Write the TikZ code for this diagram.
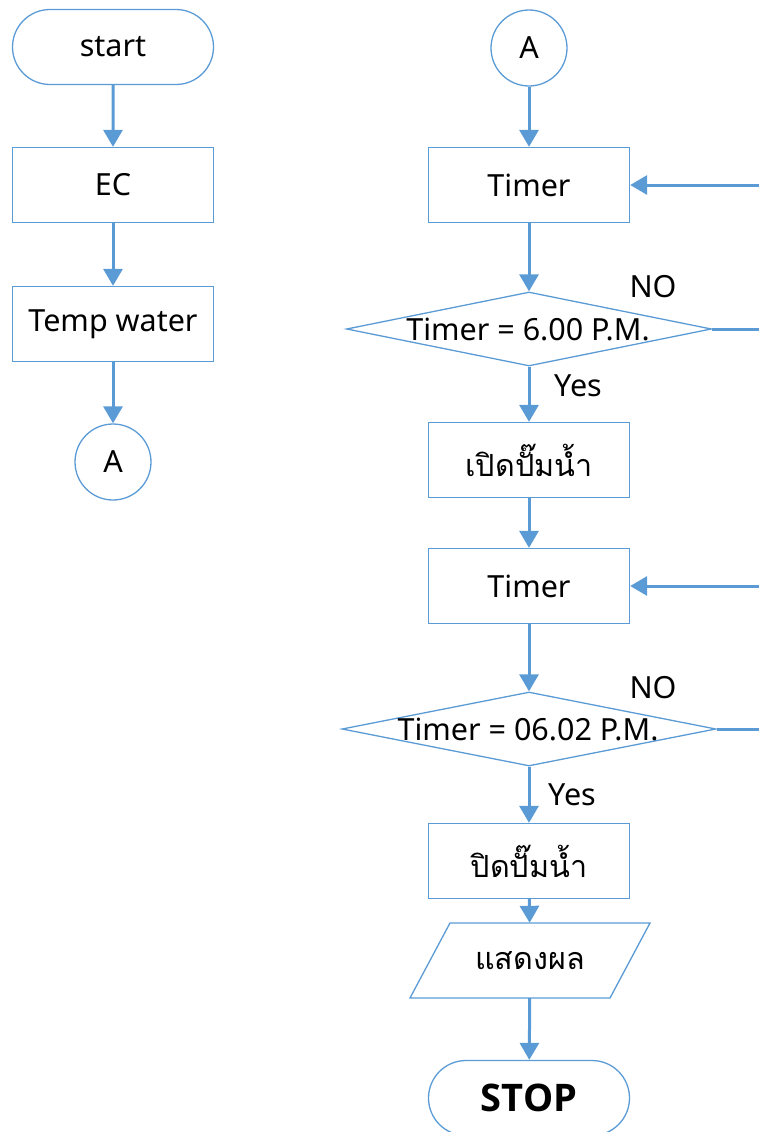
\documentclass[tikz,border=0pt]{standalone}
\usepackage{fontspec}
\setmainfont{Noto Sans}
\newfontfamily\thaifont[Script=Thai]{Loma}
\newfontfamily\stopfont{Open Sans}
\usetikzlibrary{arrows.meta,shapes.geometric,shapes.misc}
\definecolor{lineblue}{HTML}{5B9BD5}
\tikzset{
  txt/.style={font=\fontsize{30.5}{32}\selectfont},
  box/.style={draw=lineblue, line width=1.3pt, minimum width=201pt, minimum height=75pt, inner sep=0pt, txt},
  term/.style={draw=lineblue, line width=1.3pt, rounded rectangle, minimum width=201pt, minimum height=75pt, inner sep=0pt, txt},
  conn/.style={draw=lineblue, line width=1.3pt, circle, minimum size=76pt, inner sep=0pt, txt},
  decision/.style={draw=lineblue, line width=1.3pt, diamond, inner sep=0pt},
  lbl/.style={txt, inner sep=0pt},
  flow/.style={draw=lineblue, line width=3pt, -{Triangle[width=19pt,length=17pt]}},
  plain/.style={draw=lineblue, line width=3pt}
}
\begin{document}
\begin{tikzpicture}[x=1pt,y=-1pt]
\useasboundingbox (0,0) rectangle (759,1132);
\clip (0,0) rectangle (759,1132);
% left column
\node[term] (start) at (113,47) {start};
\node[box] (ec) at (113,185) {EC};
\node[box] (temp) at (113,324) {Temp water};
\node[conn] (a1) at (113,462) {A};
\draw[flow] (start) -- (ec);
\draw[flow] (ec) -- (temp);
\draw[flow] (temp) -- (a1);
% right column
\node[conn] (a2) at (529,48) {A};
\node[box] (timer1) at (529,185) {Timer};
\node[decision, minimum width=365pt, minimum height=74pt] (d1) at (529,329) {};
\node[lbl] (d1t) at (528,329) {Timer = 6.00 P.M.};
\node[box] (on) at (529,460) {\thaifont เปิดปั๊มน้ำ};
\node[box] (timer2) at (529,586) {Timer};
\node[decision, minimum width=374pt, minimum height=74pt] (d2) at (529,729) {};
\node[lbl] (d2t) at (528,729) {Timer = 06.02 P.M.};
\node[box] (off) at (529,861) {\thaifont ปิดปั๊มน้ำ};
\draw[draw=lineblue, line width=1.3pt] (450,923) -- (650,923) -- (610,998) -- (410,998) -- cycle;
\node[lbl, minimum width=200pt, minimum height=75pt] (show) at (530,960.5) {\thaifont แสดงผล};
\node[term, font=\stopfont\bfseries\fontsize{38}{40}\selectfont] (stop) at (529,1098) {STOP};
\node[lbl] (no1) at (653,287) {NO};
\node[lbl] (yes1) at (578,386) {Yes};
\node[lbl] (no2) at (653,688) {NO};
\node[lbl] (yes2) at (572,795) {Yes};
\coordinate (r1in) at (759,185);
\coordinate (r1out) at (759,329);
\coordinate (r2in) at (759,586);
\coordinate (r2out) at (759,729);
\draw[flow] (a2) -- (timer1);
\draw[flow] (timer1) -- (d1);
\draw[flow] (d1) -- (on);
\draw[flow] (on) -- (timer2);
\draw[flow] (timer2) -- (d2);
\draw[flow] (d2) -- (off);
\draw[flow] (off) -- (show);
\draw[flow] (show) -- (stop);
\draw[plain] (d1.east) -- (r1out);
\draw[flow] (r1in) -- (timer1);
\draw[plain] (d2.east) -- (r2out);
\draw[flow] (r2in) -- (timer2);
\end{tikzpicture}
\end{document}
